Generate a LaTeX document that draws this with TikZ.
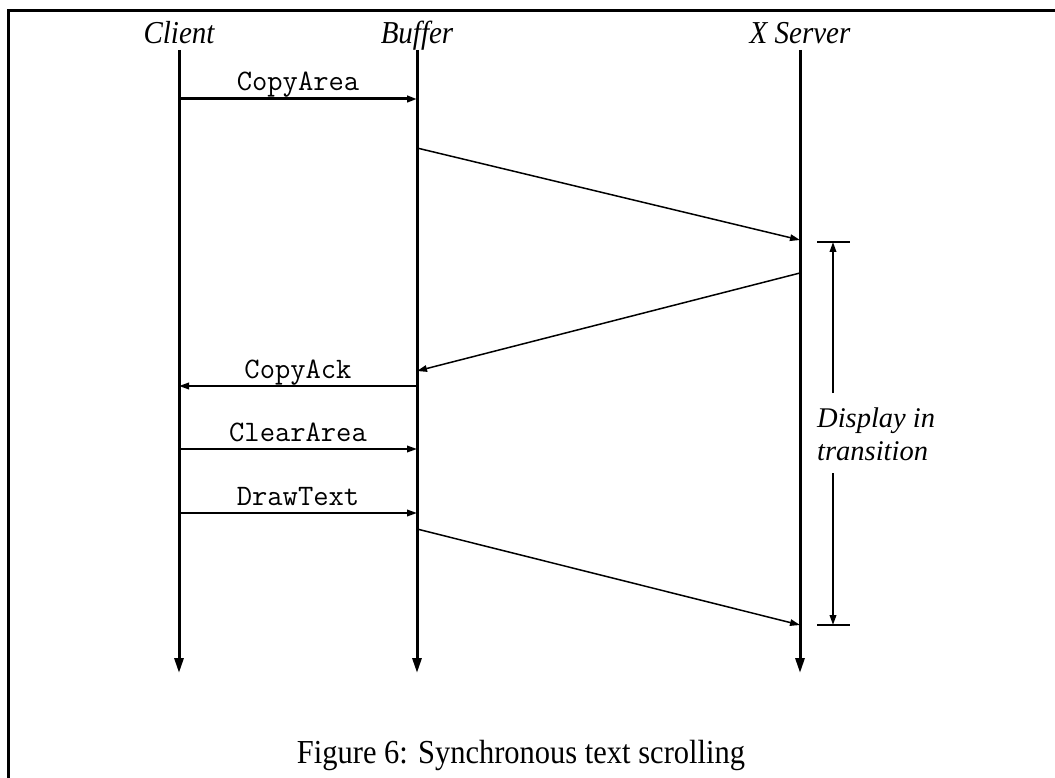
\documentclass[tikz,border=0pt]{standalone}
\usepackage{fontspec}
\setmainfont{Liberation Serif}
\usetikzlibrary{arrows.meta}
\newcommand{\tallText}[1]{\scalebox{1}[1.1]{#1}}
\begin{document}
\begin{tikzpicture}[x=1pt,y=-1pt,
  tip/.tip={Triangle[length=10pt,width=6.5pt]},
  bigtip/.tip={Triangle[length=15pt,width=9pt]},
  lifeline/.style={line width=3pt,-bigtip},
  msgthick/.style={line width=3pt,-tip},
  msg/.style={line width=2pt,-tip},
  slant/.style={line width=1.5pt,-tip},
  actor/.style={anchor=base,inner sep=0pt,font=\fontsize{29}{34}\selectfont\itshape},
  call/.style={anchor=base,inner sep=0pt,font=\fontsize{29.7}{34}\selectfont\ttfamily},
  note/.style={anchor=base west,inner sep=0pt,font=\fontsize{28.5}{33}\selectfont\itshape},
  bar/.style={line width=2pt},
  span/.style={line width=2pt,-tip}]
\useasboundingbox (0,0) rectangle (1055,778);

% frame
\draw[line width=3pt] (8,778) -- (8,11) -- (1055,11);

% participants
\node[actor] (client) at (179,44) {\tallText{Client}};
\node[actor] (buffer) at (417,44) {\tallText{Buffer}};
\node[actor] (xserver) at (800,44) {\tallText{X Server}};

% lifeline ends
\coordinate (cT) at (179,50);  \coordinate (cB) at (179,673);
\coordinate (bT) at (417,50);  \coordinate (bB) at (417,673);
\coordinate (xT) at (800,50);  \coordinate (xB) at (800,673);
\draw[lifeline] (cT) -- (cB);
\draw[lifeline] (bT) -- (bB);
\draw[lifeline] (xT) -- (xB);

% message anchor points on the lifelines
\coordinate (c1) at (179,99);  \coordinate (b1) at (417,99);
\coordinate (b2) at (417,148); \coordinate (x2) at (800,240);
\coordinate (x3) at (800,273); \coordinate (b3) at (417,371);
\coordinate (b4) at (417,386); \coordinate (c4) at (179,386);
\coordinate (c5) at (179,449); \coordinate (b5) at (417,449);
\coordinate (c6) at (179,513); \coordinate (b6) at (417,513);
\coordinate (b7) at (417,529); \coordinate (x7) at (800,625);

% messages
\draw[msgthick] (c1) -- (b1);
\node[call] (copyarea) at (298,91) {CopyArea};
\draw[slant] (b2) -- (x2);
\draw[slant] (x3) -- (b3);
\draw[msg] (b4) -- (c4);
\node[call] (copyack) at (298,378) {CopyAck};
\draw[msg] (c5) -- (b5);
\node[call] (cleararea) at (298,441) {ClearArea};
\draw[msg] (c6) -- (b6);
\node[call] (drawtext) at (298,505) {DrawText};
\draw[slant] (b7) -- (x7);

% display transition span
\coordinate (tL) at (817,242); \coordinate (tR) at (850,242);
\coordinate (sL) at (817,625); \coordinate (sR) at (850,625);
\coordinate (tM) at (833,242); \coordinate (sM) at (833,625);
\draw[bar] (tL) -- (tR);
\draw[bar] (sL) -- (sR);
\node[note] (disp1) at (817,427) {Display in};
\node[note] (disp2) at (817,460) {transition};
\coordinate (gT) at (833,393); \coordinate (gB) at (833,473);
\draw[span] (gT) -- (tM);
\draw[span] (gB) -- (sM);

% caption
\node[anchor=base,inner sep=0pt,font=\fontsize{30.5}{36}\selectfont] (caption) at (521,763) {\tallText{Figure 6: Synchronous text scrolling}};
\end{tikzpicture}
\end{document}
